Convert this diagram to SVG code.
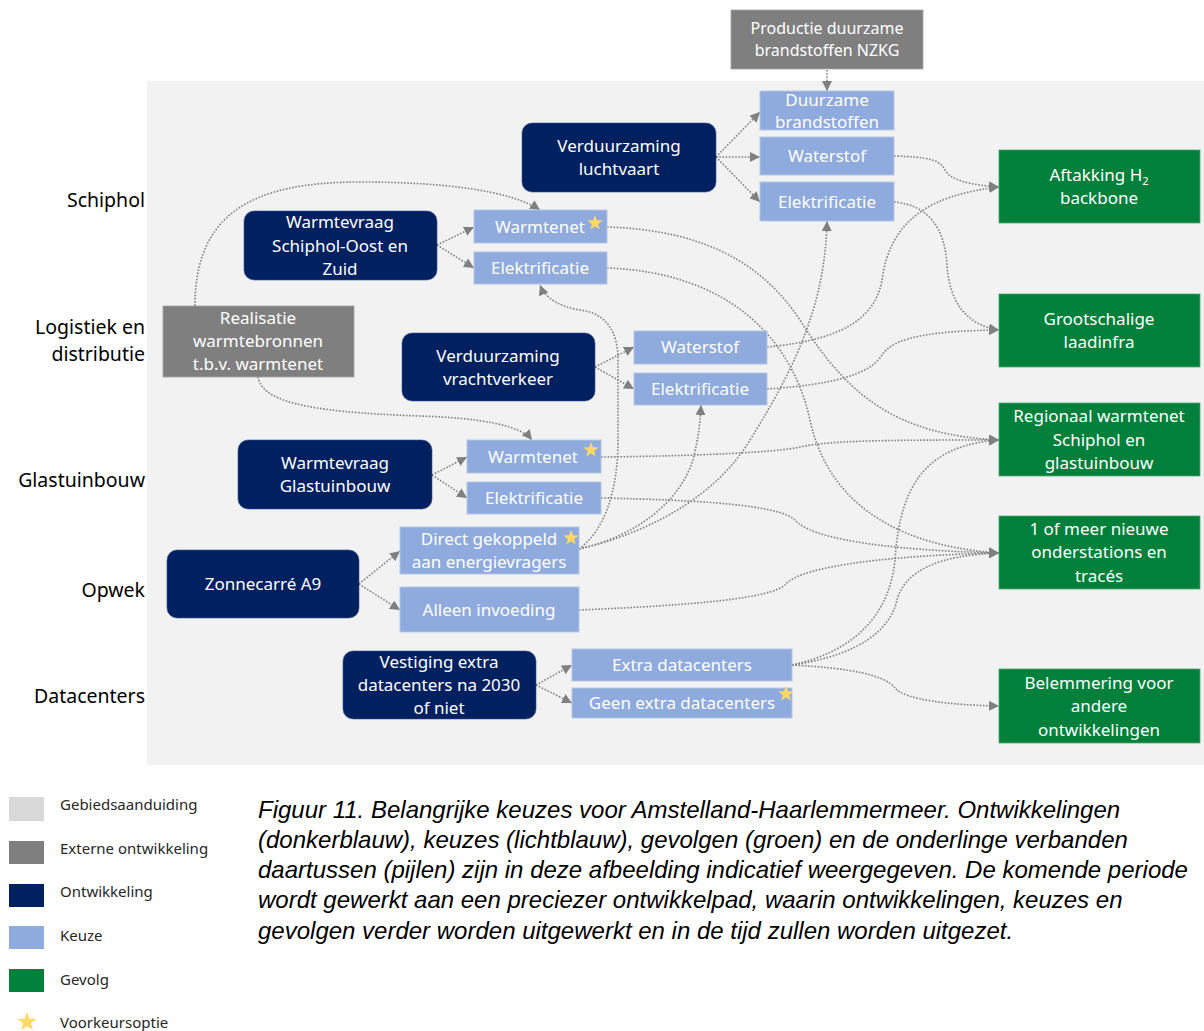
<svg xmlns="http://www.w3.org/2000/svg" width="1204" height="1031" viewBox="0 0 1204 1031">
<defs>
<style>
.dev{fill:#002060;stroke:#3a5290;stroke-width:0.6}
.ext{fill:#7f7f7f;stroke:#a6a6a6;stroke-width:0.8}
.ch{fill:#8faadc;stroke:#b4c7e7;stroke-width:1}
.gv{fill:#00803a;stroke:#4ea872;stroke-width:0.8}
.t{font-family:"Noto Sans","Open Sans",sans-serif;font-size:17px;fill:#ffffff;text-anchor:middle}
.t16{font-size:16px}
.lbl{font-family:"Noto Sans","Open Sans",sans-serif;font-size:19.5px;fill:#000000;text-anchor:end}
.leg{font-family:"Noto Sans","Open Sans",sans-serif;font-size:15px;fill:#262626}
.cap{font-family:"Liberation Sans",Arial,sans-serif;font-size:24px;font-style:italic;fill:#000000}
.c{fill:none;stroke:#808080;stroke-width:1.6;stroke-dasharray:1.6 1.6}
.star{fill:#ffd966}
</style>
<marker id="ah" viewBox="0 0 10 10" refX="10" refY="5" markerUnits="userSpaceOnUse" markerWidth="10" markerHeight="10" orient="auto">
<path d="M0,0 L10,5 L0,10 z" fill="#808080"/>
</marker>
<path id="st" d="M0,-8 L1.94,-2.67 L7.61,-2.47 L3.14,1.02 L4.70,6.47 L0,3.3 L-4.70,6.47 L-3.14,1.02 L-7.61,-2.47 L-1.94,-2.67 Z"/>
</defs>

<rect x="0" y="0" width="1204" height="1031" fill="#ffffff"/>
<rect id="gebied" x="147" y="81" width="1057" height="684" fill="#f2f2f2"/>

<g id="labels">
<text class="lbl" x="145" y="207">Schiphol</text>
<text class="lbl" x="145" y="334">Logistiek en</text>
<text class="lbl" x="145" y="361">distributie</text>
<text class="lbl" x="145" y="487">Glastuinbouw</text>
<text class="lbl" x="145" y="597">Opwek</text>
<text class="lbl" x="145" y="703">Datacenters</text>
</g>

<g id="connectors" marker-end="url(#ah)">
<path class="c" d="M827,70 L827,91"/>
<path class="c" d="M716,157 L760,112"/>
<path class="c" d="M716,157 L760,157"/>
<path class="c" d="M716,157 L760,202"/>
<path class="c" d="M437,245 L474,227"/>
<path class="c" d="M437,245 L474,268"/>
<path class="c" d="M195,306 C195,215 250,182 360,182 C440,182 510,190 540,210"/>
<path class="c" d="M258,377 C262,400 300,412 420,416 C480,418 520,425 532,440"/>
<path class="c" d="M595,367 L634,347"/>
<path class="c" d="M595,367 L634,389"/>
<path class="c" d="M432,475 L467,457"/>
<path class="c" d="M432,475 L467,498"/>
<path class="c" d="M359,584 L400,551"/>
<path class="c" d="M359,584 L400,610"/>
<path class="c" d="M536,685 L572,665"/>
<path class="c" d="M536,685 L572,703"/>
<path class="c" d="M894,156 C930,157 940,160 945,170 C950,180 970,185 999,187"/>
<path class="c" d="M894,202 C930,205 945,230 947,265 C949,300 965,325 999,330"/>
<path class="c" d="M767,347 C840,340 875,320 882,280 C890,220 930,195 999,187"/>
<path class="c" d="M767,389 C830,385 870,375 882,355 C895,335 940,331 999,330"/>
<path class="c" d="M607,227 C700,230 760,260 800,320 C850,400 900,435 999,440"/>
<path class="c" d="M607,268 C720,272 790,330 810,420 C825,490 880,545 999,553"/>
<path class="c" d="M601,457 C700,456 780,452 800,447 C830,440 900,440 999,440"/>
<path class="c" d="M601,498 C700,500 780,505 795,520 C810,538 880,550 999,553"/>
<path class="c" d="M579,610 C700,605 770,598 785,585 C800,565 900,555 999,553"/>
<path class="c" d="M792,665 C860,650 890,610 895,560 C900,480 930,445 999,440"/>
<path class="c" d="M792,665 C860,655 890,630 897,600 C905,570 940,555 999,553"/>
<path class="c" d="M792,665 C850,668 885,675 895,688 C905,700 950,705 999,706"/>
<path class="c" d="M579,549 C605,530 618,490 618,440 L618,360 C618,330 605,313 580,310 C560,307 545,298 540,285"/>
<path class="c" d="M579,549 C640,535 680,500 693,460 C698,440 700,425 701,405"/>
<path class="c" d="M579,549 C660,530 720,490 750,440 C800,360 825,300 827,221"/>
</g>

<g id="n-productie"><rect class="ext" x="731" y="10" width="192" height="59"/>
<text class="t t16" x="827" y="34">Productie duurzame</text><text class="t t16" x="827" y="56">brandstoffen NZKG</text></g>
<g id="n-duurzame"><rect class="ch" x="760" y="91" width="134" height="39"/>
<text class="t" x="827" y="106">Duurzame</text><text class="t" x="827" y="128">brandstoffen</text></g>
<g id="n-waterstof-lucht"><rect class="ch" x="760" y="137" width="134" height="38"/>
<text class="t" x="827" y="162">Waterstof</text></g>
<g id="n-elek-lucht"><rect class="ch" x="760" y="182" width="134" height="39"/>
<text class="t" x="827" y="208">Elektrificatie</text></g>
<g id="n-luchtvaart"><rect class="dev" x="522" y="123" width="194" height="69" rx="10"/>
<text class="t" x="619" y="152">Verduurzaming</text><text class="t" x="619" y="175">luchtvaart</text></g>
<g id="n-warmtevraag-schiphol"><rect class="dev" x="244" y="211" width="193" height="69" rx="10"/>
<text class="t" x="340" y="228">Warmtevraag</text><text class="t" x="340" y="252">Schiphol-Oost en</text><text class="t" x="340" y="275">Zuid</text></g>
<g id="n-warmtenet-schiphol"><rect class="ch" x="474" y="210" width="133" height="33"/>
<text class="t" x="540" y="233">Warmtenet</text><use href="#st" class="star" x="595" y="223"/></g>
<g id="n-elek-schiphol"><rect class="ch" x="474" y="252" width="133" height="32"/>
<text class="t" x="540" y="274">Elektrificatie</text></g>
<g id="n-realisatie"><rect class="ext" x="163" y="306" width="191" height="71"/>
<text class="t" x="258" y="324">Realisatie</text><text class="t" x="258" y="347">warmtebronnen</text><text class="t" x="258" y="370">t.b.v. warmtenet</text></g>
<g id="n-vrachtverkeer"><rect class="dev" x="402" y="333" width="193" height="68" rx="10"/>
<text class="t" x="498" y="362">Verduurzaming</text><text class="t" x="498" y="385">vrachtverkeer</text></g>
<g id="n-waterstof-vracht"><rect class="ch" x="634" y="331" width="133" height="33"/>
<text class="t" x="700" y="353">Waterstof</text></g>
<g id="n-elek-vracht"><rect class="ch" x="634" y="373" width="133" height="32"/>
<text class="t" x="700" y="395">Elektrificatie</text></g>
<g id="n-warmtevraag-glas"><rect class="dev" x="238" y="440" width="194" height="69" rx="10"/>
<text class="t" x="335" y="469">Warmtevraag</text><text class="t" x="335" y="492">Glastuinbouw</text></g>
<g id="n-warmtenet-glas"><rect class="ch" x="467" y="440" width="134" height="33"/>
<text class="t" x="533" y="463">Warmtenet</text><use href="#st" class="star" x="591" y="450"/></g>
<g id="n-elek-glas"><rect class="ch" x="467" y="482" width="134" height="32"/>
<text class="t" x="534" y="504">Elektrificatie</text></g>
<g id="n-zonnecarre"><rect class="dev" x="167" y="550" width="192" height="68" rx="10"/>
<text class="t" x="263" y="590">Zonnecarré A9</text></g>
<g id="n-direct"><rect class="ch" x="400" y="527" width="179" height="47"/>
<text class="t" x="489" y="545">Direct gekoppeld</text><text class="t" x="489" y="568">aan energievragers</text><use href="#st" class="star" x="571" y="538"/></g>
<g id="n-alleen"><rect class="ch" x="400" y="587" width="179" height="45"/>
<text class="t" x="489" y="616">Alleen invoeding</text></g>
<g id="n-vestiging"><rect class="dev" x="343" y="651" width="193" height="68" rx="10"/>
<text class="t" x="439" y="668">Vestiging extra</text><text class="t" x="439" y="691">datacenters na 2030</text><text class="t" x="439" y="714">of niet</text></g>
<g id="n-extra"><rect class="ch" x="572" y="649" width="220" height="32"/>
<text class="t" x="682" y="671">Extra datacenters</text></g>
<g id="n-geen"><rect class="ch" x="572" y="688" width="220" height="30"/>
<text class="t" x="682" y="709">Geen extra datacenters</text><use href="#st" class="star" x="786" y="694"/></g>
<g id="n-aftakking"><rect class="gv" x="999" y="150" width="201" height="73"/>
<text class="t" x="1099" y="181">Aftakking H<tspan font-size="11" dy="4">2</tspan></text><text class="t" x="1099" y="204">backbone</text></g>
<g id="n-laadinfra"><rect class="gv" x="999" y="294" width="201" height="73"/>
<text class="t" x="1099" y="325">Grootschalige</text><text class="t" x="1099" y="348">laadinfra</text></g>
<g id="n-regionaal"><rect class="gv" x="999" y="403" width="201" height="73"/>
<text class="t" x="1099" y="422">Regionaal warmtenet</text><text class="t" x="1099" y="446">Schiphol en</text><text class="t" x="1099" y="469">glastuinbouw</text></g>
<g id="n-onderstations"><rect class="gv" x="999" y="516" width="201" height="73"/>
<text class="t" x="1099" y="535">1 of meer nieuwe</text><text class="t" x="1099" y="558">onderstations en</text><text class="t" x="1099" y="582">tracés</text></g>
<g id="n-belemmering"><rect class="gv" x="999" y="669" width="201" height="74"/>
<text class="t" x="1099" y="689">Belemmering voor</text><text class="t" x="1099" y="712">andere</text><text class="t" x="1099" y="736">ontwikkelingen</text></g>

<g id="legend">
<rect x="9" y="797" width="35" height="24" fill="#d9d9d9"/>
<rect x="9" y="841" width="35" height="23" fill="#7f7f7f"/>
<rect x="9" y="884" width="35" height="23" fill="#002060"/>
<rect x="9" y="926" width="35" height="23" fill="#8faadc"/>
<rect x="9" y="969" width="35" height="23" fill="#00803a"/>
<use href="#st" class="star" transform="translate(27,1022) scale(1.25)"/>
<text class="leg" x="60" y="810">Gebiedsaanduiding</text>
<text class="leg" x="60" y="854">Externe ontwikkeling</text>
<text class="leg" x="60" y="897">Ontwikkeling</text>
<text class="leg" x="60" y="941">Keuze</text>
<text class="leg" x="60" y="985">Gevolg</text>
<text class="leg" x="60" y="1028">Voorkeursoptie</text>
</g>

<g id="caption">
<text class="cap" x="258" y="818">Figuur 11. Belangrijke keuzes voor Amstelland-Haarlemmermeer. Ontwikkelingen</text>
<text class="cap" x="258" y="848">(donkerblauw), keuzes (lichtblauw), gevolgen (groen) en de onderlinge verbanden</text>
<text class="cap" x="258" y="878">daartussen (pijlen) zijn in deze afbeelding indicatief weergegeven. De komende periode</text>
<text class="cap" x="258" y="908">wordt gewerkt aan een preciezer ontwikkelpad, waarin ontwikkelingen, keuzes en</text>
<text class="cap" x="258" y="939">gevolgen verder worden uitgewerkt en in de tijd zullen worden uitgezet.</text>
</g>
</svg>
